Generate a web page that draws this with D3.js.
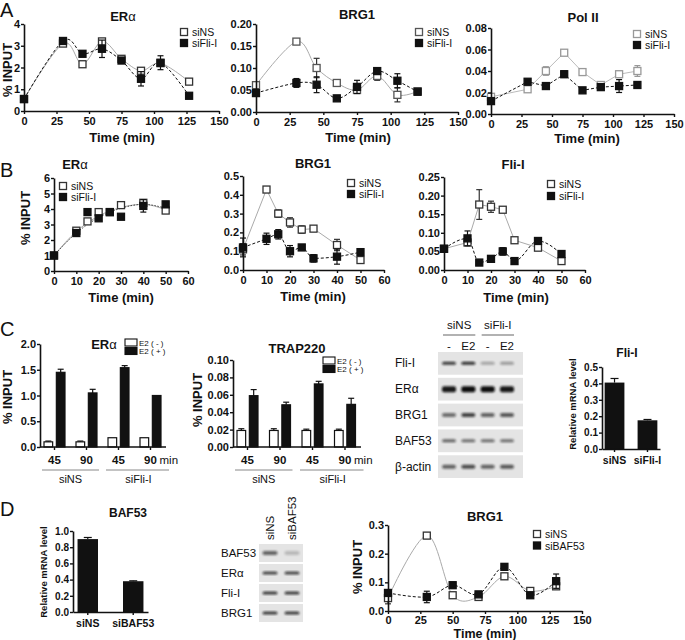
<!DOCTYPE html>
<html><head><meta charset="utf-8">
<script src="https://cdn.jsdelivr.net/npm/d3@7"></script>
<style>
body{margin:0;background:#fff}
svg{display:block}
text{font-family:'Liberation Sans',Arial,sans-serif;fill:#111}
</style>
</head><body>
<svg id="fig" width="685" height="640"></svg>
<script>
// ---------------- DATA ----------------
// Panel A (time course, min)
const timeA = [0,30,45,60,75,90,105,120];
const timeA_ERa = [0,30,45,60,75,90,105,127];
const aERa_siNS = [0.55,3.1,2.15,3.2,2.4,1.85,2.2,1.35];
const aERa_siNS_err = [0,0.1,0,0.1,0,0.05,0.1,0];
const aERa_siFli = [0.55,3.22,2.63,2.86,2.32,1.48,2.22,0.7];
const aERa_siFli_err = [0,0.1,0,0.4,0,0.33,0.32,0];
const aBRG1_siNS = [0.061,0.16,0.1,0.066,0.05,0.082,0.039,0.047];
const aBRG1_siNS_err = [0.004,0,0.022,0,0.004,0.01,0.016,0];
const aBRG1_siFli = [0.043,0.066,0.062,0.031,0.057,0.093,0.071,0.046];
const aBRG1_siFli_err = [0,0.01,0.018,0,0.015,0.005,0.016,0];
const aPol_siNS = [0.016,0.023,0.04,0.057,0.039,0.027,0.037,0.04];
const aPol_siNS_err = [0.002,0,0.004,0.001,0,0,0.003,0.005];
const aPol_siFli = [0.012,0.03,0.026,0.037,0.022,0.025,0.026,0.027];
const aPol_siFli_err = [0,0,0.003,0.003,0,0,0.006,0];
const ticksA = [0,25,50,75,100,125,150];

// Panel B
const timeB = [0,10,15,20,25,30,40,50];
const bERa_siNS = [1.0,2.6,3.2,3.8,3.8,4.25,4.4,3.9];
const bERa_siNS_err = [0,0.1,0,0.1,0,0,0.2,0];
const bERa_siFli = [1.0,2.45,3.8,3.4,3.8,3.5,4.2,4.3];
const bERa_siFli_err = [0,0.1,0,0,0,0,0.4,0];
const fitTimeB = [0,10,20,30,40,50];
const bERa_fitNS = [1.0,2.55,3.55,4.1,4.3,3.95];
const bERa_fitFli = [1.0,2.45,3.45,4.05,4.3,4.05];
const bBRG1_siNS = [0.11,0.428,0.3,0.253,0.215,0.22,0.133,0.053];
const bBRG1_siNS_err = [0.03,0.015,0.02,0.025,0.02,0,0.03,0];
const bBRG1_siFli = [0.12,0.166,0.19,0.1,0.12,0.062,0.071,0.095];
const bBRG1_siFli_err = [0.05,0.03,0.025,0.03,0,0.02,0.04,0];
const bFli_siNS = [0.057,0.074,0.176,0.17,0.162,0.08,0.06,0.024];
const bFli_siNS_err = [0,0.005,0.04,0.015,0,0,0,0];
const bFli_siFli = [0.057,0.085,0.02,0.03,0.05,0.024,0.078,0.043];
const bFli_siFli_err = [0,0.02,0,0,0.01,0,0.005,0];
const ticksB = [0,10,20,30,40,50,60];

// Panel C
const cGroups = ['siNS-45','siNS-90','siFli-I-45','siFli-I-90'];
const cGroupTime = ['45','90','45','90'];
const cSets = ['siNS','siFli-I'];
const cERa_minus = [0.1,0.1,0.18,0.18];
const cERa_minus_err = [0.015,0.015,0,0];
const cERa_plus = [1.45,1.05,1.54,1.0];
const cERa_plus_err = [0.06,0.07,0.04,0];
const cTRAP_minus = [0.019,0.019,0.019,0.019];
const cTRAP_minus_err = [0.002,0.002,0.0015,0.0015];
const cTRAP_plus = [0.059,0.0485,0.0725,0.049];
const cTRAP_plus_err = [0.007,0.003,0.003,0.007];
const fliCats = ['siNS','siFli-I'];
const fliMRNA = [0.405,0.175];
const fliMRNA_err = [0.025,0.005];
const blotC_rows = ['Fli-I','ERα','BRG1','BAF53','β-actin'];
const blotC_lanes = ['-','E2','-','E2'];
const blotC_int = [[0.8,0.85,0.3,0.35],[0.95,1,1,0.95],[0.55,0.75,0.6,0.65],[0.6,0.55,0.55,0.55],[0.6,0.7,0.6,0.65]];

// Panel D
const bafCats = ['siNS','siBAF53'];
const baf53MRNA = [0.9,0.38];
const baf53MRNA_err = [0.02,0.005];
const blotD_rows = ['BAF53','ERα','Fli-I','BRG1'];
const blotD_lanes = ['siNS','siBAF53'];
const blotD_int = [[0.6,0.2],[0.75,0.75],[0.8,0.8],[0.8,0.8]];
const timeD = [0,30,50,70,90,110,130];
const dBRG1_siNS = [0.045,0.263,0.055,0.049,0.121,0.07,0.086];
const dBRG1_siNS_err = [0.02,0.01,0,0.01,0.01,0.01,0.01];
const dBRG1_siBAF = [0.063,0.049,0.09,0.058,0.154,0.055,0.104];
const dBRG1_siBAF_err = [0,0.02,0,0,0,0,0.025];

// ---------------- DRAWING ----------------
const svg = d3.select('#fig');
svg.append('rect').attr('width',685).attr('height',640).attr('fill','#fff');
const defs = svg.append('defs');
defs.append('filter').attr('id','blur').attr('x','-20%').attr('y','-50%').attr('width','140%').attr('height','200%')
  .append('feGaussianBlur').attr('stdDeviation',1.1);

function styleAxis(a){
  a.select('.domain').attr('stroke','#111').attr('stroke-width',1.6);
  a.selectAll('.tick line').attr('stroke','#111').attr('stroke-width',1.4);
  a.selectAll('.tick text').attr('font-size',11).attr('font-weight','bold')
    .attr('font-family',"'Liberation Sans',Arial,sans-serif").attr('fill','#111');
}
function title(txt, x, y, size){
  const t = svg.append('text').attr('x',x).attr('y',y).attr('text-anchor','middle')
    .attr('font-size',size||13).attr('font-weight','bold');
  if (txt.endsWith('α')) {
    t.append('tspan').text(txt.slice(0,-1));
    t.append('tspan').attr('font-weight','normal').text('α');
  } else t.text(txt);
  return t;
}
function ylabel(txt, x, y, size){
  svg.append('text').attr('transform',`translate(${x},${y}) rotate(-90)`).attr('text-anchor','middle')
    .attr('font-size',size||12.5).attr('font-weight','bold').text(txt);
}
function letter(txt, x, y){
  svg.append('text').attr('x',x).attr('y',y).attr('font-size',20).text(txt);
}

function lineChart(c){
  const g = svg.append('g');
  const x = d3.scaleLinear().domain(c.xDom).range([c.x0,c.x1]);
  const y = d3.scaleLinear().domain(c.yDom).range([c.yBot,c.yTop]);
  c.series.forEach(s=>{
    const pts = s.fit ? s.fit.t.map((t,i)=>({t,v:s.fit.v[i]})) : s.t.map((t,i)=>({t,v:s.v[i]}));
    g.append('path').datum(pts)
      .attr('d', d3.line().x(d=>x(d.t)).y(d=>y(d.v)).curve(s.curve||d3.curveLinear))
      .attr('fill','none').attr('stroke',s.lineColor).attr('stroke-width',s.lw||1)
      .attr('stroke-dasharray',s.dash||null);
  });
  c.series.forEach(s=>{
    const pts = s.t.map((t,i)=>({t,v:s.v[i],e:s.e?s.e[i]:0}));
    const eb = g.append('g').attr('stroke',s.errColor||'#111').attr('stroke-width',1.2);
    pts.filter(d=>d.e>0).forEach(d=>{
      eb.append('line').attr('x1',x(d.t)).attr('x2',x(d.t)).attr('y1',y(d.v-d.e)).attr('y2',y(d.v+d.e));
      eb.append('line').attr('x1',x(d.t)-3).attr('x2',x(d.t)+3).attr('y1',y(d.v-d.e)).attr('y2',y(d.v-d.e));
      eb.append('line').attr('x1',x(d.t)-3).attr('x2',x(d.t)+3).attr('y1',y(d.v+d.e)).attr('y2',y(d.v+d.e));
    });
    g.selectAll(null).data(pts).join('rect')
      .attr('x',d=>x(d.t)-3.5).attr('y',d=>y(d.v)-3.5).attr('width',7).attr('height',7)
      .attr('fill',s.fill).attr('stroke',s.stroke).attr('stroke-width',1.3);
  });
  const ya = g.append('g').attr('transform',`translate(${c.x0},0)`)
    .call(d3.axisLeft(y).tickValues(c.yTicks).tickFormat(c.yFmt).tickSize(3).tickSizeOuter(0).tickPadding(1));
  const xa = g.append('g').attr('transform',`translate(0,${c.yBot})`)
    .call(d3.axisBottom(x).tickValues(c.xTicks).tickFormat(d3.format('d')).tickSize(3).tickSizeOuter(0).tickPadding(c.xpad||3));
  styleAxis(ya); styleAxis(xa);
  title(c.title, c.tx, c.ty);
  svg.append('text').attr('x',c.xlx).attr('y',c.xly).attr('text-anchor','middle')
    .attr('font-size',c.xls||13).attr('font-weight','bold').text('Time (min)');
  if (c.ylx!=null) ylabel('% INPUT', c.ylx, c.yly, 13);
  c.series.forEach((s,i)=>{
    const ly = c.ly + i*c.lgap;
    svg.append('rect').attr('x',c.lx-3.5).attr('y',ly-3.5).attr('width',7).attr('height',7)
      .attr('fill',s.fill).attr('stroke',s.stroke).attr('stroke-width',1.3);
    svg.append('text').attr('x',c.lx+8).attr('y',ly+4).attr('font-size',10.5).attr('fill','#333').text(s.name);
  });
}

const NS = (t,v,e,extra)=>Object.assign({name:'siNS',t,v,e,fill:'#fff',stroke:'#333',lineColor:'#aaa',errColor:'#333',curve:d3.curveCardinal},extra||{});
const FL = (t,v,e,extra)=>Object.assign({name:'siFli-I',t,v,e,fill:'#111',stroke:'#111',lineColor:'#111',dash:'3,2',curve:d3.curveCardinal},extra||{});

// ---- Panel A ----
letter('A',0,17);
lineChart({x0:24,x1:219,yTop:24,yBot:111,xDom:[0,150],xTicks:ticksA,yDom:[0,4],yTicks:[0,1,2,3,4],yFmt:d3.format('d'),
  title:'ERα',tx:123,ty:21,xlx:122,xly:142,ylx:12,yly:70,lx:184,ly:32,lgap:11,
  series:[NS(timeA_ERa,aERa_siNS,aERa_siNS_err),FL(timeA_ERa,aERa_siFli,aERa_siFli_err)]});
lineChart({x0:256,x1:458,yTop:24,yBot:112,xDom:[0,150],xTicks:ticksA,yDom:[0,0.2],yTicks:[0,0.05,0.1,0.15,0.2],yFmt:d3.format('.2f'),
  title:'BRG1',tx:357,ty:19,xlx:358,xly:142,ylx:null,lx:419,ly:32,lgap:11,
  series:[NS(timeA,aBRG1_siNS,aBRG1_siNS_err,{stroke:'#555'}),FL(timeA,aBRG1_siFli,aBRG1_siFli_err)]});
lineChart({x0:491,x1:674,yTop:28,yBot:114,xDom:[0,150],xTicks:ticksA,yDom:[0,0.08],yTicks:[0,0.02,0.04,0.06,0.08],yFmt:d3.format('.2f'),
  title:'Pol II',tx:583,ty:22,xlx:587,xly:143,ylx:null,lx:637,ly:34,lgap:11,
  series:[NS(timeA,aPol_siNS,aPol_siNS_err,{stroke:'#999',lineColor:'#bbb',errColor:'#999',curve:d3.curveLinear}),
          FL(timeA,aPol_siFli,aPol_siFli_err,{curve:d3.curveLinear})]});

// ---- Panel B ----
letter('B',0,177);
lineChart({x0:54,x1:188,yTop:178,yBot:271,xDom:[0,60],xTicks:ticksB,yDom:[0,6],yTicks:[0,1,2,3,4,5,6],yFmt:d3.format('d'),
  title:'ERα',tx:75,ty:169,xlx:121,xly:302,ylx:30,yly:218,lx:63,ly:186,lgap:11,
  series:[NS(timeB,bERa_siNS,bERa_siNS_err,{fit:{t:fitTimeB,v:bERa_fitNS},curve:d3.curveMonotoneX}),
          FL(timeB,bERa_siFli,bERa_siFli_err,{fit:{t:fitTimeB,v:bERa_fitFli},curve:d3.curveMonotoneX,dash:'1.5,1.5',lineColor:'#444'})]});
lineChart({x0:243,x1:384,yTop:176,yBot:270,xDom:[0,60],xTicks:ticksB,yDom:[0,0.5],yTicks:[0,0.1,0.2,0.3,0.4,0.5],yFmt:d3.format('.1f'),
  title:'BRG1',tx:313,ty:168,xlx:313,xly:301,ylx:null,lx:351,ly:183,lgap:11,
  series:[NS(timeB,bBRG1_siNS,bBRG1_siNS_err,{curve:d3.curveLinear}),FL(timeB,bBRG1_siFli,bBRG1_siFli_err,{curve:d3.curveMonotoneX})]});
lineChart({x0:444,x1:585,yTop:177,yBot:270,xDom:[0,60],xTicks:ticksB,yDom:[0,0.25],yTicks:[0,0.05,0.1,0.15,0.2,0.25],yFmt:d3.format('.2f'),
  title:'Fli-I',tx:513,ty:169,xlx:516,xly:302,ylx:null,lx:551,ly:184,lgap:12,
  series:[NS(timeB,bFli_siNS,bFli_siNS_err,{curve:d3.curveLinear}),FL(timeB,bFli_siFli,bFli_siFli_err,{curve:d3.curveMonotoneX})]});

// ---- Panel C ----
letter('C',0,336);
function groupedBars(c){
  const g = svg.append('g');
  const x = d3.scaleBand().domain(cGroups).range([c.x0-2,c.x1]).paddingInner(0).paddingOuter(0);
  const xi = d3.scaleBand().domain(['-','+']).range([6,27]).paddingInner(0.3);
  const y = d3.scaleLinear().domain(c.yDom).range([c.yBot,c.yTop]);
  const rows = cGroups.map((k,i)=>({k,m:c.minus[i],me:c.minusErr[i],p:c.plus[i],pe:c.plusErr[i]}));
  rows.forEach(r=>{
    [['-',r.m,r.me,'#fff'],['+',r.p,r.pe,'#111']].forEach(([s,v,e,f])=>{
      const bx = x(r.k)+xi(s), bw = xi.bandwidth(), cx = bx+bw/2;
      if (e>0){
        g.append('line').attr('x1',cx).attr('x2',cx).attr('y1',y(v)).attr('y2',y(v+e)).attr('stroke','#111').attr('stroke-width',1.2);
        g.append('line').attr('x1',cx-3).attr('x2',cx+3).attr('y1',y(v+e)).attr('y2',y(v+e)).attr('stroke','#111').attr('stroke-width',1.2);
      }
      g.append('rect').attr('x',bx).attr('y',y(v)).attr('width',bw).attr('height',c.yBot-y(v))
        .attr('fill',f).attr('stroke','#111').attr('stroke-width',1.2);
    });
  });
  const ya = g.append('g').attr('transform',`translate(${c.x0},0)`)
    .call(d3.axisLeft(y).tickValues(c.yTicks).tickFormat(c.yFmt).tickSize(3).tickSizeOuter(0).tickPadding(1));
  styleAxis(ya);
  g.append('line').attr('x1',c.x0).attr('x2',c.x1).attr('y1',c.yBot).attr('y2',c.yBot).attr('stroke','#111').attr('stroke-width',1.6);
  cGroups.forEach((k,i)=>{
    const cx = x(k)+xi('-')+ (xi('+')+xi.bandwidth()-xi('-'))/2;
    g.append('line').attr('x1',cx).attr('x2',cx).attr('y1',c.yBot).attr('y2',c.yBot+3).attr('stroke','#111').attr('stroke-width',1.4);
    g.append('text').attr('x',cx).attr('y',c.yBot+17).attr('text-anchor','middle').attr('font-size',11.5).attr('font-weight','bold').text(cGroupTime[i]);
    if (i===cGroups.length-1) g.append('text').attr('x',cx+9).attr('y',c.yBot+17).attr('font-size',11.5).text('min');
  });
  cSets.forEach((s,j)=>{
    const a = x(cGroups[j*2])+xi('-'), b = x(cGroups[j*2+1])+xi('+')+xi.bandwidth();
    g.append('line').attr('x1',a-2).attr('x2',b+(j?8:2)).attr('y1',c.yBot+23).attr('y2',c.yBot+23).attr('stroke','#888').attr('stroke-width',1);
    g.append('text').attr('x',(a+b)/2+(j?4:0)).attr('y',c.yBot+36).attr('text-anchor','middle').attr('font-size',11).text(s);
  });
  title(c.title,c.tx,c.ty,13);
  ylabel('% INPUT',c.ylx,c.yly,13);
  [['E2 ( - )','#fff'],['E2 ( + )','#111']].forEach(([t,f],i)=>{
    g.append('rect').attr('x',c.lx).attr('y',c.ly+i*8.5).attr('width',12).attr('height',7).attr('fill',f).attr('stroke','#111').attr('stroke-width',1.1);
    g.append('text').attr('x',c.lx+14).attr('y',c.ly+i*8.5+6.5).attr('font-size',8).text(t);
  });
}
groupedBars({x0:40,x1:166,yTop:344,yBot:447,yDom:[0,2],yTicks:[0,0.5,1,1.5,2],yFmt:d3.format('.1f'),
  minus:cERa_minus,minusErr:cERa_minus_err,plus:cERa_plus,plusErr:cERa_plus_err,
  title:'ERα',tx:104,ty:349,ylx:12,yly:397,lx:125,ly:339});
groupedBars({x0:233,x1:361,yTop:360,yBot:447,yDom:[0,0.1],yTicks:[0,0.02,0.04,0.06,0.08,0.1],yFmt:d3.format('.2f'),
  minus:cTRAP_minus,minusErr:cTRAP_minus_err,plus:cTRAP_plus,plusErr:cTRAP_plus_err,
  title:'TRAP220',tx:297,ty:353,ylx:202,yly:400,lx:323,ly:357});

function blot(c){
  const g = svg.append('g');
  const ry = d3.scaleBand().domain(c.rows).range([c.y0,c.y1]).paddingInner(c.pad);
  const lx = d3.scalePoint().domain(d3.range(c.lanes.length)).range([c.l0,c.l1]);
  c.rows.forEach((r,i)=>{
    g.append('rect').attr('x',c.bx0).attr('y',ry(r)).attr('width',c.bx1-c.bx0).attr('height',ry.bandwidth()).attr('fill','#e4e4e4');
    c.int[i].forEach((v,j)=>{
      const bh = c.bandH[i];
      g.append('rect').attr('x',lx(j)-c.bandW/2).attr('y',ry(r)+ry.bandwidth()/2-bh/2).attr('width',c.bandW).attr('height',bh)
        .attr('rx',2).attr('fill','#111').attr('opacity',v).attr('filter','url(#blur)');
    });
    g.append('text').attr('x',c.labX).attr('y',ry(r)+ry.bandwidth()/2+4).attr('font-size',c.labS||12).attr('fill','#222').text(r);
  });
  return lx;
}
const lxC = blot({rows:blotC_rows,lanes:blotC_lanes,int:blotC_int,y0:352,y1:478,pad:0.12,l0:449,l1:507,bx0:438,bx1:523,
  bandW:14,bandH:[3,6,4,3,4],labX:395});
blotC_lanes.forEach((l,j)=>svg.append('text').attr('x',lxC(j)).attr('y',350).attr('text-anchor','middle').attr('font-size',11.5).attr('fill','#222').text(l));
cSets.forEach((s,j)=>{
  const a = lxC(j*2)-6, b = lxC(j*2+1)+7;
  svg.append('line').attr('x1',a).attr('x2',b).attr('y1',335).attr('y2',335).attr('stroke','#666').attr('stroke-width',1.2);
  svg.append('text').attr('x',(a+b)/2).attr('y',329).attr('text-anchor','middle').attr('font-size',11.5).attr('fill','#222').text(s);
});

function simpleBars(c){
  const g = svg.append('g');
  const x = d3.scaleBand().domain(c.cats).range([c.x0,c.x1]).paddingInner(c.pi).paddingOuter(c.po);
  const y = d3.scaleLinear().domain(c.yDom).range([c.yBot,c.yTop]);
  c.cats.forEach((k,i)=>{
    const cx = x(k)+x.bandwidth()/2, v=c.vals[i], e=c.errs[i];
    g.append('line').attr('x1',cx).attr('x2',cx).attr('y1',y(v)).attr('y2',y(v+e)).attr('stroke','#111').attr('stroke-width',1.2);
    g.append('line').attr('x1',cx-4).attr('x2',cx+4).attr('y1',y(v+e)).attr('y2',y(v+e)).attr('stroke','#111').attr('stroke-width',1.2);
    g.append('rect').attr('x',x(k)).attr('y',y(v)).attr('width',x.bandwidth()).attr('height',c.yBot-y(v)).attr('fill','#111');
  });
  const ya = g.append('g').attr('transform',`translate(${c.x0},0)`)
    .call(d3.axisLeft(y).tickValues(c.yTicks).tickFormat(d3.format('.1f')).tickSize(3).tickSizeOuter(0).tickPadding(1));
  const xa = g.append('g').attr('transform',`translate(0,${c.yBot})`)
    .call(d3.axisBottom(x).tickSize(3).tickSizeOuter(0).tickPadding(5));
  styleAxis(ya); styleAxis(xa);
  ya.selectAll('.tick text').attr('font-size',10);
  xa.selectAll('.tick text').attr('font-size',10.5);
  title(c.title,c.tx,c.ty,12);
  ylabel('Relative mRNA level',c.ylx,c.yly,9.5);
}
simpleBars({cats:fliCats,vals:fliMRNA,errs:fliMRNA_err,x0:602,x1:660,pi:0.4,po:0.08,yTop:367,yBot:449,yDom:[0,0.5],
  yTicks:[0,0.1,0.2,0.3,0.4,0.5],title:'Fli-I',tx:627,ty:357,ylx:576,yly:404});

// ---- Panel D ----
letter('D',0,516);
simpleBars({cats:bafCats,vals:baf53MRNA,errs:baf53MRNA_err,x0:73,x1:148,pi:0.55,po:0.1,yTop:531,yBot:612,yDom:[0,1],
  yTicks:[0,0.2,0.4,0.6,0.8,1.0],title:'BAF53',tx:128,ty:517,ylx:47,yly:572});
const lxD = blot({rows:blotD_rows,lanes:blotD_lanes,int:blotD_int,y0:544,y1:622,pad:0.1,l0:270,l1:292,bx0:259,bx1:303,
  bandW:15,bandH:[4,3,3,3],labX:221,labS:11.5});
blotD_lanes.forEach((l,j)=>svg.append('text').attr('transform',`translate(${lxD(j)+4},540) rotate(-90)`).attr('font-size',11.5).attr('fill','#222').text(l));
lineChart({x0:388,x1:582,yTop:525,yBot:611,xDom:[0,150],xTicks:ticksA,yDom:[0,0.3],yTicks:[0,0.1,0.2,0.3],yFmt:d3.format('.1f'),
  title:'BRG1',tx:485,ty:521,xlx:485,xly:638,xls:12.5,xpad:2,ylx:362,yly:567,lx:537,ly:534,lgap:11.5,
  series:[NS(timeD,dBRG1_siNS,dBRG1_siNS_err,{stroke:'#333'}),
          Object.assign(FL(timeD,dBRG1_siBAF,dBRG1_siBAF_err),{name:'siBAF53'})]});
</script>
</body></html>
